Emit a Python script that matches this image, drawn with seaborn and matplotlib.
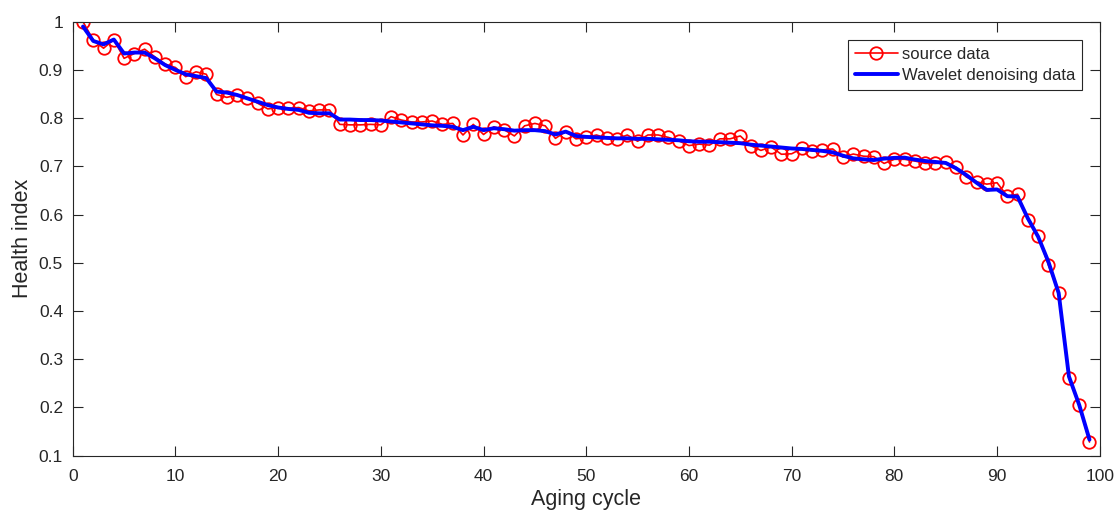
import numpy as np
import pandas as pd
import matplotlib
matplotlib.use("Agg")
import matplotlib.pyplot as plt
import seaborn as sns
from matplotlib.ticker import FuncFormatter

cycles = list(range(1, 100))

source_data = [
    1.000, 0.962, 0.945, 0.963, 0.924, 0.934, 0.943, 0.927, 0.912, 0.905,
    0.886, 0.896, 0.891, 0.849, 0.843, 0.848, 0.842, 0.831, 0.819, 0.822,
    0.820, 0.822, 0.815, 0.817, 0.817, 0.787, 0.786, 0.786, 0.787, 0.786,
    0.803, 0.796, 0.792, 0.792, 0.794, 0.787, 0.789, 0.765, 0.787, 0.766,
    0.782, 0.776, 0.763, 0.784, 0.789, 0.784, 0.758, 0.772, 0.757, 0.760,
    0.765, 0.758, 0.757, 0.765, 0.752, 0.765, 0.765, 0.760, 0.753, 0.743,
    0.746, 0.744, 0.757, 0.757, 0.763, 0.743, 0.733, 0.740, 0.725, 0.726,
    0.737, 0.732, 0.734, 0.736, 0.719, 0.7255, 0.721, 0.720, 0.706, 0.7145,
    0.7145, 0.711, 0.706, 0.706, 0.708, 0.698, 0.678, 0.668, 0.663, 0.666,
    0.638, 0.642, 0.589, 0.556, 0.495, 0.438, 0.261, 0.204, 0.128,
]

denoised_data = [
    0.990, 0.960, 0.953, 0.963, 0.934, 0.936, 0.936, 0.924, 0.910, 0.900,
    0.891, 0.887, 0.883, 0.855, 0.853, 0.848, 0.841, 0.834, 0.827, 0.822,
    0.819, 0.817, 0.811, 0.810, 0.810, 0.797, 0.797, 0.796, 0.796, 0.795,
    0.793, 0.791, 0.789, 0.787, 0.785, 0.784, 0.782, 0.775, 0.782, 0.775,
    0.779, 0.777, 0.774, 0.775, 0.775, 0.773, 0.766, 0.772, 0.763, 0.761,
    0.760, 0.759, 0.758, 0.758, 0.757, 0.757, 0.756, 0.755, 0.754, 0.752,
    0.751, 0.751, 0.750, 0.749, 0.748, 0.745, 0.743, 0.741, 0.739, 0.737,
    0.736, 0.734, 0.732, 0.729, 0.722, 0.7165, 0.7145, 0.713, 0.716, 0.7175,
    0.718, 0.714, 0.711, 0.709, 0.707, 0.696, 0.682, 0.666, 0.651, 0.652,
    0.638, 0.637, 0.592, 0.554, 0.502, 0.437, 0.264, 0.205, 0.133,
]

series_labels = ["source data", "Wavelet denoising data"]
x_label = "Aging cycle"
y_label = "Health index"

sns.set_style("white")
plt.rcParams["font.family"] = ["Liberation Sans", "DejaVu Sans"]

df = pd.DataFrame({"cycle": cycles, "source": source_data, "denoised": denoised_data})

fig = plt.figure(figsize=(11.19, 5.18), dpi=100)
ax = fig.add_axes([0.065, 0.1206, 0.9178, 0.8375])

sns.lineplot(data=df, x="cycle", y="source", ax=ax, color="#ff0000",
             linewidth=1.2, marker="o", markersize=9, markerfacecolor="none",
             markeredgecolor="#ff0000", markeredgewidth=1.3,
             label=series_labels[0], zorder=2)
sns.lineplot(data=df, x="cycle", y="denoised", ax=ax, color="#0000ff",
             linewidth=2.8, label=series_labels[1], zorder=3)

ax.set_xlim(0, 100)
ax.set_ylim(0.1, 1.0)
ax.set_xticks(np.arange(0, 101, 10))
ax.set_yticks(np.round(np.arange(0.1, 1.01, 0.1), 1))
ax.yaxis.set_major_formatter(FuncFormatter(lambda v, p: "%g" % round(v, 2)))

for s in ax.spines.values():
    s.set_visible(True)
    s.set_color("#262626")
    s.set_linewidth(0.8)
ax.tick_params(direction="in", length=7.5, width=0.8, color="#262626",
               labelcolor="#262626", labelsize=12.5, top=True, right=True,
               bottom=True, left=True)
ax.tick_params(axis="x", pad=10)
ax.tick_params(axis="y", pad=7)

ax.set_xlabel(x_label, fontsize=15.5, color="#262626", labelpad=3.5)
ax.set_ylabel(y_label, fontsize=15.5, color="#262626", labelpad=4)

leg = ax.legend(loc="upper right", bbox_to_anchor=(0.983, 0.958), fontsize=12,
                frameon=True, fancybox=False, framealpha=1, edgecolor="#262626",
                handlelength=2.6, borderpad=0.4, labelspacing=0.4,
                handletextpad=0.25, borderaxespad=0.0)
leg.get_frame().set_linewidth(0.8)

fig.savefig("out.png", dpi=100, facecolor="white")
